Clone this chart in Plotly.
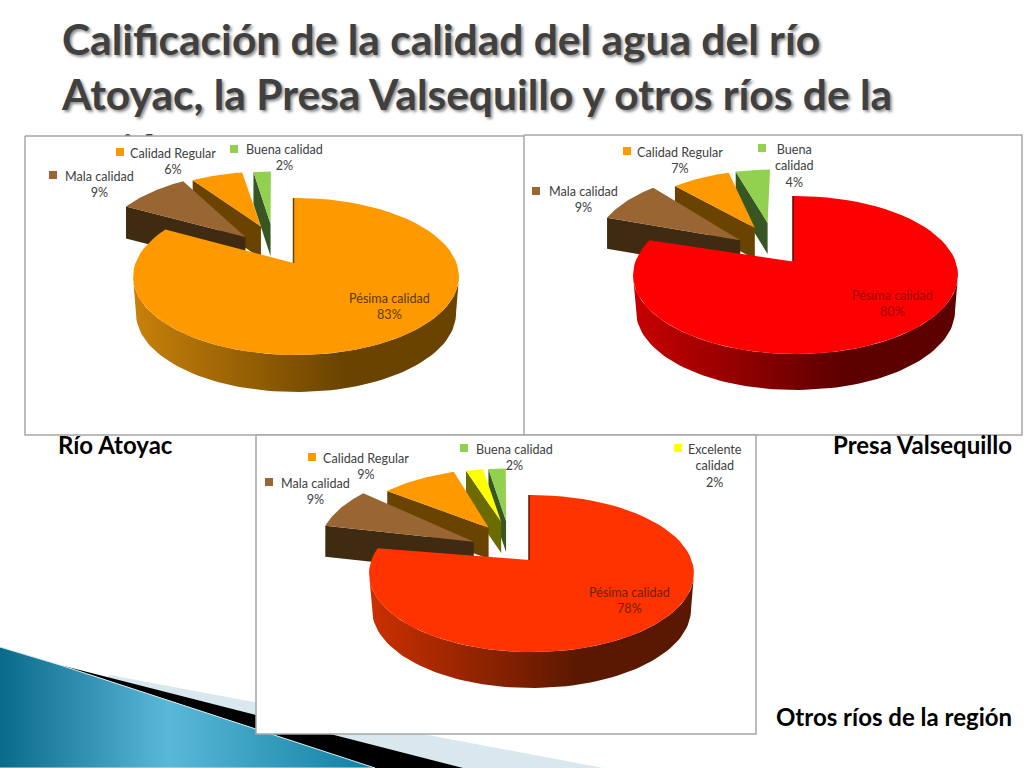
#!/usr/bin/env python
"""
Slide with three exploded 3D pies: water quality of rio Atoyac, Presa Valsequillo and
other rivers. The axes span the slide in pixels; wedges are built from the values.
"""
import numpy as np
import plotly.graph_objects as go

# data
categorias_atoyac = ["Pésima calidad", "Mala calidad", "Calidad Regular", "Buena calidad"]
valores_atoyac = [83, 9, 6, 2]
categorias_presa = ["Pésima calidad", "Mala calidad", "Calidad Regular", "Buena<br>calidad"]
valores_presa = [80, 9, 7, 4]
categorias_otros = ["Pésima calidad", "Mala calidad", "Calidad Regular", "Excelente<br>calidad", "Buena calidad"]
valores_otros = [78, 9, 9, 2, 2]

titulo = ["Calificación de la calidad del agua del río",
          "Atoyac, la Presa Valsequillo y otros ríos de la",
          "región"]

GREY = "#a6a6a6"
FONT = "Lato"
BROWN = ("#996633", "#3f2a12")
ORANGE = ("#ff9900", "#6b4300")
GREEN = ("#92d050", "#375623")
YELLOW = ("#ffff00", "#6b6b00")

# layout of each pie: ellipse, colours, label centres and legend keys (pixels of the slide)
PIES = [
    dict(cats=categorias_atoyac, vals=valores_atoyac, box=(25, 136, 525, 435),
         ec=(296, 276.5), rx=163, ry=78.5, depth=37,
         big=("#ff9900", "#c8810a", "#6a4300"), bigtext="#5a3a00",
         small=[BROWN, ORANGE, GREEN], pull=[16, 19, 10],
         labels=[(389, 289), (99.5, 167), (173, 144), (284, 140)],
         keys=[None, (53, 175), (120, 152), (234, 149)]),
    dict(cats=categorias_presa, vals=valores_presa, box=(524, 135, 1022, 435),
         ec=(795.5, 275), rx=162.5, ry=79, depth=36,
         big=("#ff0000", "#c80000", "#5c0000"), bigtext="#a00000",
         small=[BROWN, ORANGE, GREEN], pull=[19, -4, -5],
         labels=[(892, 286), (583, 182), (680, 143), (794, 140)],
         keys=[None, (536, 191), (627, 151), (762, 148)]),
    dict(cats=categorias_otros, vals=valores_otros, box=(256, 435, 756, 734),
         ec=(531.5, 573.5), rx=162.5, ry=78.5, depth=36,
         big=("#ff3300", "#cc3000", "#5a1800"), bigtext="#6e2000",
         small=[BROWN, ORANGE, YELLOW, GREEN], pull=[30, 15, 19, 19],
         labels=[(629, 583), (315, 474), (366, 449), (715, 440), (514, 440)],
         keys=[None, (269, 482), (312, 457), (678, 448), (464, 448)]),
]

fig = go.Figure()


def poly(x, y, color, line=None, width=1, gradient=None):
    """One closed filled polygon on the slide axes."""
    kw = dict(fillgradient=gradient) if gradient else dict(fillcolor=color)
    fig.add_trace(go.Scatter(
        x=list(x), y=list(y), mode="lines", fill="toself",
        line=dict(color=line or "rgba(0,0,0,0)", width=width if line else 0),
        hoverinfo="skip", showlegend=False, **kw))


def arc(cx, cy, rx, ry, t0, t1, n=80):
    """Ellipse arc; angles in degrees clockwise from the top."""
    t = np.radians(np.linspace(t0, t1, n))
    return cx + rx*np.sin(t), cy - ry*np.cos(t)


def hgrad(*stops):
    return dict(type="horizontal", colorscale=[[s, c] for s, c in stops])


# 1. Decoration bottom left: light stripe, black stripe, teal swoosh
poly([110, 603, 0, 0], [675, 768, 768, 768], "#d9e8ef")
poly([60, 255, 463, 375], [665, 715, 768, 768], "#000000")
poly([0, 60, 375, 0], [647, 665, 768, 768], None, line="#d8e8ee", width=1,
     gradient=hgrad((0, "#0a6a8a"), (0.45, "#5ab8d8"), (1, "#0f7fa0")))

# 2. Title; the third line sits behind the chart boxes
for line, ty in zip(titulo, (44, 99, 154)):
    fig.add_trace(go.Scatter(
        x=[62], y=[ty], mode="text", text=[f"<b>{line}</b>"], textposition="middle right",
        textfont=dict(family=FONT, size=42.5, color="#404040",
                      shadow="2px 2px 3px rgba(0,0,0,0.45)"),
        hoverinfo="skip", showlegend=False))

# 3. The pies
for p in PIES:
    x0, y0, x1, y1 = p["box"]
    poly([x0, x1, x1, x0, x0], [y0, y0, y1, y1, y0], "#ffffff", line=GREY, width=1.5)

    ecx, ecy = p["ec"]
    rx, ry, depth = p["rx"], p["ry"], p["depth"]
    edges = 360*np.cumsum(p["vals"])/sum(p["vals"])

    # small slices are drawn from the top one back to the left so they overlap correctly
    small = list(zip(edges[:-1], edges[1:], p["small"], p["pull"]))
    for k, (t0, t1, (top, side), pull) in reversed(list(enumerate(small))):
        mid_deg = (t0 + t1)/2
        mid = np.radians(mid_deg)
        # perspective squeezes the exploded slices a little; the first one only on its far edge
        span = t1 - t0
        a0 = t0 + 0.075*span if k else t0 + 0.15*span
        a1 = t1 - 0.075*span if k else t1
        cx = ecx - 23 + pull*np.sin(mid)
        cy = ecy - 26.5
        ax = ecx - 23 + 39*np.sin(mid)
        ay = cy - 26*np.cos(mid)**2
        xa, ya = arc(cx, cy, rx, ry, a0, a1, 30)
        poly([xa[0], ax, ax, xa[0]], [ya[0], ay, ay + depth - 5, ya[0] + depth - 5], side)
        poly([ax, *xa], [ay, *ya], top)

    # big slice: outer wall first, then the top face
    end = edges[0] + 8
    xw, yw = arc(ecx, ecy, rx, ry, 90, min(end, 270))
    xb, yb = arc(ecx, ecy + depth, rx - 3, ry, 90, min(end, 270))
    face, light, dark = p["big"]
    poly([*xw, *xb[::-1]], [*yw, *yb[::-1]], None,
         gradient=hgrad((0, light), (0.65, dark), (1, dark)))
    ax, ay = ecx - 2.5, ecy - 13.5
    xa, ya = arc(ecx, ecy, rx, ry, 0, end)
    poly([ax, ax, *xa], [ay, ecy - ry, *ya], face)
    fig.add_trace(go.Scatter(x=[ax, ax], y=[ay, ecy - ry], mode="lines",
                             line=dict(color=dark, width=1.5), hoverinfo="skip", showlegend=False))

    # data labels and their legend keys
    for i, (cat, val) in enumerate(zip(p["cats"], p["vals"])):
        lx, ly = p["labels"][i]
        fig.add_annotation(x=lx, y=ly, text=f"{cat}<br>{val}%", showarrow=False,
                           xanchor="center", yanchor="top", align="center",
                           font=dict(family=FONT, size=12.6, color=p["bigtext"] if i == 0 else "#404040"))
        if p["keys"][i]:
            kx, ky = p["keys"][i]
            color = p["small"][i - 1][0]
            fig.add_trace(go.Scatter(x=[kx], y=[ky], mode="markers",
                                     marker=dict(symbol="square", size=8, color=color),
                                     hoverinfo="skip", showlegend=False))

# 4. Captions
for text, cx, cy in [("Río Atoyac", 115, 444.5), ("Presa Valsequillo", 922.5, 444.5),
                     ("Otros ríos de la región", 894, 716.5)]:
    fig.add_annotation(x=cx, y=cy, text=f"<b>{text}</b>", showarrow=False,
                       font=dict(family=FONT, size=24, color="#000000"))

fig.update_layout(
    width=1024, height=768, margin=dict(l=0, r=0, t=0, b=0),
    paper_bgcolor="#ffffff", plot_bgcolor="#ffffff", showlegend=False,
    xaxis=dict(range=[0, 1024], visible=False, fixedrange=True),
    yaxis=dict(range=[768, 0], visible=False, fixedrange=True))

fig.write_html("out.html", config=dict(displayModeBar=False),
               post_script="document.body.style.margin='0';document.body.style.overflow='hidden';")
